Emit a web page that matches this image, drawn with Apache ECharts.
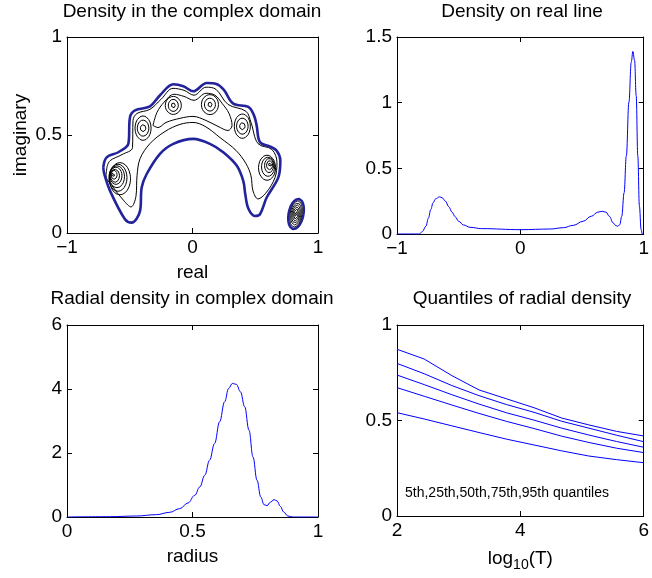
<!DOCTYPE html>
<html>
<head>
<meta charset="utf-8">
<script src="https://cdn.jsdelivr.net/npm/echarts@6/dist/echarts.min.js"></script>
<style>
  html, body { margin: 0; padding: 0; background: #fff; }
  #chart { width: 652px; height: 578px; }
</style>
</head>
<body>
<div id="chart"></div>
<script>
// ---- panel 1: contours in the complex plane (real, imaginary) ----
const outerRe = [-0.711, -0.684, -0.591, -0.511, -0.498, -0.458, -0.339, -0.259, -0.153, -0.073, 0.006, 0.113, 0.19, 0.25, 0.325, 0.445, 0.49, 0.511, 0.538, 0.62, 0.671, 0.7, 0.684, 0.591, 0.538, 0.498, 0.445, 0.42, 0.405, 0.352, 0.245, 0.139, 0.006, -0.153, -0.259, -0.365, -0.405, -0.418, -0.485, -0.538, -0.657, -0.703];
const outerIm = [0.335, 0.386, 0.412, 0.455, 0.591, 0.626, 0.646, 0.703, 0.759, 0.749, 0.723, 0.765, 0.76, 0.73, 0.66, 0.643, 0.6, 0.549, 0.463, 0.44, 0.42, 0.37, 0.284, 0.181, 0.096, 0.087, 0.125, 0.2, 0.265, 0.344, 0.412, 0.455, 0.48, 0.455, 0.404, 0.301, 0.232, 0.113, 0.053, 0.07, 0.215, 0.301];

const level2Re = [-0.681, -0.657, -0.562, -0.478, -0.474, -0.442, -0.339, -0.251, -0.155, -0.068, 0.012, 0.108, 0.187, 0.283, 0.426, 0.466, 0.522, 0.633, 0.673, 0.657, 0.586, 0.522, 0.482, 0.466, 0.426, 0.347, 0.219, 0.1, 0.004, -0.1, -0.219, -0.339, -0.418, -0.442, -0.45, -0.49, -0.546, -0.641, -0.689];
const level2Im = [0.338, 0.369, 0.4, 0.436, 0.574, 0.61, 0.631, 0.682, 0.738, 0.728, 0.703, 0.744, 0.733, 0.656, 0.621, 0.564, 0.456, 0.426, 0.359, 0.282, 0.205, 0.174, 0.215, 0.292, 0.354, 0.421, 0.487, 0.544, 0.564, 0.554, 0.518, 0.456, 0.379, 0.292, 0.19, 0.133, 0.164, 0.241, 0.292];

const level3Re = [-0.315, -0.283, -0.227, -0.147, -0.068, 0.012, 0.108, 0.179, 0.235, 0.291, 0.315, 0.283, 0.203, 0.108, 0.004, -0.1, -0.211, -0.275];
const level3Im = [0.549, 0.615, 0.667, 0.708, 0.697, 0.677, 0.713, 0.703, 0.662, 0.61, 0.549, 0.523, 0.544, 0.574, 0.595, 0.585, 0.564, 0.538];

// rings around the local peaks: centre and half-widths of each ring
const ringRe = [-0.633, -0.625, -0.618, -0.61, -0.602, -0.594, -0.578, -0.394, -0.394, -0.394, -0.153, -0.153, -0.153, 0.139, 0.139, 0.139, 0.397, 0.397, 0.397, 0.618, 0.614, 0.61, 0.602, 0.594];
const ringIm = [0.297, 0.297, 0.292, 0.292, 0.287, 0.282, 0.277, 0.535, 0.535, 0.535, 0.651, 0.651, 0.651, 0.655, 0.655, 0.655, 0.545, 0.545, 0.545, 0.349, 0.346, 0.344, 0.338, 0.333];
const ringRx = [0.012, 0.024, 0.036, 0.048, 0.06, 0.072, 0.084, 0.022, 0.046, 0.064, 0.016, 0.04, 0.064, 0.016, 0.044, 0.068, 0.022, 0.046, 0.064, 0.012, 0.024, 0.036, 0.052, 0.068];
const ringRy = [0.01, 0.023, 0.033, 0.044, 0.056, 0.069, 0.082, 0.018, 0.041, 0.062, 0.013, 0.031, 0.046, 0.013, 0.033, 0.051, 0.018, 0.041, 0.062, 0.01, 0.023, 0.036, 0.049, 0.064];

// small separate blob near the real axis
const blobRe = 0.825;
const blobIm = 0.097;
const blobRx = [0.06, 0.048, 0.04, 0.032, 0.024, 0.016, 0.008];
const blobRy = [0.077, 0.067, 0.056, 0.046, 0.036, 0.026, 0.015];
const blobTilt = 0.3;

// ---- panel 2: density on the real line ----
const realX = [-1, -0.819, -0.793, -0.766, -0.745, -0.726, -0.708, -0.687, -0.655, -0.634, -0.607, -0.58, -0.554, -0.527, -0.501, -0.461, -0.408, -0.315, 0.004, 0.243, 0.349, 0.429, 0.509, 0.575, 0.628, 0.663, 0.695, 0.721, 0.753, 0.774, 0.79, 0.806, 0.822, 0.841, 0.859, 0.88, 0.899, 0.912, 0.926, 0.939, 0.952, 0.965, 0.979, 0.989, 1];
const realDensity = [0, 0, 0.02, 0.059, 0.122, 0.186, 0.237, 0.268, 0.283, 0.276, 0.25, 0.207, 0.166, 0.13, 0.097, 0.069, 0.051, 0.041, 0.033, 0.038, 0.048, 0.066, 0.097, 0.135, 0.166, 0.173, 0.166, 0.135, 0.084, 0.064, 0.059, 0.071, 0.135, 0.314, 0.594, 1.003, 1.309, 1.39, 1.321, 1.054, 0.594, 0.212, 0.033, 0, 0];

// ---- panel 3: radial density ----
const radius = [0, 0.17, 0.276, 0.356, 0.409, 0.449, 0.482, 0.509, 0.529, 0.549, 0.568, 0.588, 0.608, 0.628, 0.644, 0.659, 0.675, 0.691, 0.708, 0.725, 0.741, 0.757, 0.772, 0.785, 0.797, 0.81, 0.825, 0.837, 0.85, 0.863, 0.88, 0.9, 1];
const radialDensity = [0, 0.01, 0.031, 0.073, 0.146, 0.261, 0.438, 0.678, 0.939, 1.305, 1.775, 2.296, 2.975, 3.601, 4.019, 4.175, 4.144, 3.914, 3.445, 2.714, 1.879, 1.148, 0.626, 0.386, 0.355, 0.459, 0.543, 0.501, 0.334, 0.157, 0.031, 0, 0];

// ---- panel 4: quantiles vs log10(T) ----
const logT = [2, 2.44, 2.89, 3.33, 3.78, 4.22, 4.67, 5.11, 5.56, 6];
const q95 = [0.873, 0.822, 0.735, 0.66, 0.613, 0.567, 0.513, 0.477, 0.443, 0.419];
const q75 = [0.799, 0.745, 0.683, 0.63, 0.583, 0.543, 0.496, 0.46, 0.423, 0.389];
const q50 = [0.738, 0.688, 0.635, 0.586, 0.54, 0.502, 0.46, 0.424, 0.39, 0.36];
const q25 = [0.672, 0.627, 0.581, 0.537, 0.495, 0.458, 0.418, 0.385, 0.355, 0.332];
const q05 = [0.541, 0.508, 0.472, 0.437, 0.402, 0.372, 0.341, 0.314, 0.295, 0.279];

const FONT = '"Liberation Sans", Arial, sans-serif';
const BLUE = '#0000ff';
const zip = (xs, ys) => xs.map((x, i) => [x, ys[i]]);
const closed = (xs, ys) => { const p = zip(xs, ys); p.push(p[0]); return p; };
const minus = v => String(v).replace('-', '\u2212');

function ellipse(cx, cy, rx, ry, tilt) {
  const pts = [];
  for (let k = 0; k <= 48; k++) {
    const t = k / 48 * 2 * Math.PI;
    pts.push([cx + rx * Math.cos(t) + tilt * rx * Math.sin(t), cy + ry * Math.sin(t)]);
  }
  return pts;
}

const grids = [
  { left: 67, top: 37, width: 251, height: 196 },
  { left: 397, top: 37, width: 251, height: 197 },
  { left: 67, top: 325, width: 251, height: 192 },
  { left: 397, top: 325, width: 251, height: 191 }
];
const xr = [[-1, 1, 1], [-1, 1, 1], [0, 1, 0.5], [2, 6, 2]];
const yr = [[0, 1, 0.5], [0, 1.5, 0.5], [0, 6, 2], [0, 1, 0.5]];
const xNames = ['real', '', 'radius', '{a|log}{b|10}{a|(T)}'];
const yNames = ['imaginary', '', '', ''];

const line = { onZero: false, lineStyle: { color: '#000', width: 1 } };
const tick = { show: true, inside: true, length: 5, lineStyle: { color: '#000' } };
const label = { color: '#000', fontSize: 19, fontFamily: FONT };
const xAxis = [], yAxis = [];
grids.forEach((g, i) => {
  xAxis.push({
    type: 'value', gridIndex: i, min: xr[i][0], max: xr[i][1], interval: xr[i][2],
    axisLine: line, axisTick: tick, splitLine: { show: false },
    axisLabel: Object.assign({ margin: 5, formatter: minus }, label),
    name: xNames[i], nameLocation: 'middle', nameGap: 30,
    nameTextStyle: Object.assign({
      rich: {
        a: { fontSize: 19, fontFamily: FONT, color: '#000' },
        b: { fontSize: 14, fontFamily: FONT, color: '#000', padding: [12, 0, 0, 0] }
      }
    }, label)
  });
  xAxis.push({
    type: 'value', gridIndex: i, position: 'top', min: xr[i][0], max: xr[i][1], interval: xr[i][2],
    axisLine: line, axisTick: tick, axisLabel: { show: false }, splitLine: { show: false }
  });
  yAxis.push({
    type: 'value', gridIndex: i, min: yr[i][0], max: yr[i][1], interval: yr[i][2],
    axisLine: line, axisTick: tick, splitLine: { show: false },
    axisLabel: Object.assign({ margin: 5, padding: [4, 0, 0, 0] }, label),
    name: yNames[i], nameLocation: 'middle', nameGap: 37, nameTextStyle: label
  });
  yAxis.push({
    type: 'value', gridIndex: i, position: 'right', min: yr[i][0], max: yr[i][1], interval: yr[i][2],
    axisLine: line, axisTick: tick, axisLabel: { show: false }, splitLine: { show: false }
  });
});

const series = [];
function addLine(panel, data, color, width, smooth) {
  series.push({
    type: 'line', xAxisIndex: panel * 2, yAxisIndex: panel * 2, data: data,
    showSymbol: false, symbol: 'none', smooth: smooth, smoothMonotone: smooth && panel > 0 ? 'x' : undefined,
    lineStyle: { color: color, width: width }, silent: true, animation: false, clip: true
  });
}

// panel 1 contours
addLine(0, closed(level2Re, level2Im), '#000', 1, 0.35);
addLine(0, closed(level3Re, level3Im), '#000', 1, 0.35);
ringRe.forEach((cx, i) => addLine(0, ellipse(cx, ringIm[i], ringRx[i], ringRy[i], 0), '#000', 1, false));
blobRx.forEach((rx, i) => addLine(0, ellipse(blobRe, blobIm, rx, blobRy[i], blobTilt), i === 0 ? '#23239c' : '#111', i === 0 ? 2.5 : 1, false));
addLine(0, closed(outerRe, outerIm), '#23239c', 2.6, 0.35);

// panel 2..4
addLine(1, zip(realX, realDensity), BLUE, 1, 0.4);
addLine(2, zip(radius, radialDensity), BLUE, 1, 0.4);
[q95, q75, q50, q25, q05].forEach(q => addLine(3, zip(logT, q), BLUE, 1, false));

const titles = [
  ['Density in the complex domain', 192, 12],
  ['Density on real line', 522, 12],
  ['Radial density in complex domain', 192, 299],
  ['Quantiles of radial density', 522, 299]
];
const graphic = titles.map(t => ({
  type: 'text', x: t[1], y: t[2], silent: true,
  style: { text: t[0], fill: '#000', font: '19px ' + FONT, align: 'center', verticalAlign: 'middle' }
}));
graphic.push({
  type: 'text', x: 405, y: 493, silent: true,
  style: { text: '5th,25th,50th,75th,95th quantiles', fill: '#000', font: '14px ' + FONT, align: 'left', verticalAlign: 'middle' }
});

const chart = echarts.init(document.getElementById('chart'));
chart.setOption({
  backgroundColor: '#fff',
  animation: false,
  grid: grids,
  xAxis: xAxis,
  yAxis: yAxis,
  series: series,
  graphic: graphic
});
</script>
</body>
</html>
